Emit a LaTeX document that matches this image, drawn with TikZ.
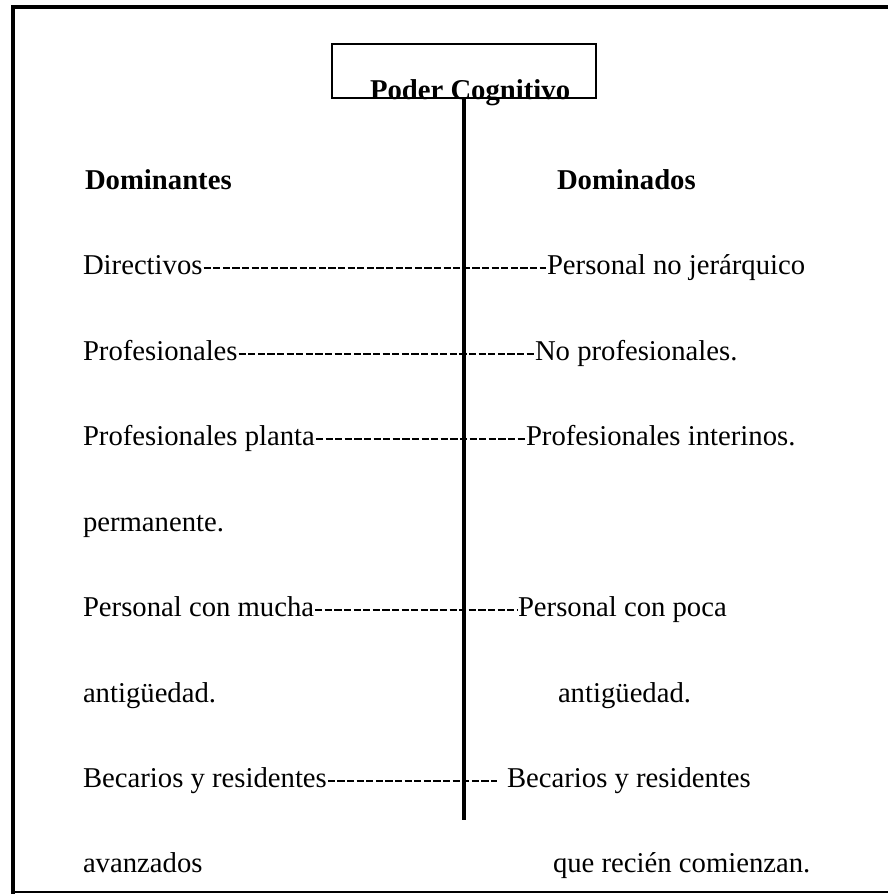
\documentclass[tikz,border=0pt]{standalone}
\usepackage{fontspec}
\setmainfont{Liberation Serif}
\usetikzlibrary{calc}
\begin{document}
\begin{tikzpicture}[x=0.5pt,y=-0.5pt,
  txt/.style={anchor=base west, inner sep=0pt, outer sep=0pt, font=\fontsize{14.35pt}{17pt}\selectfont},
  hdr/.style={txt, font=\fontsize{14.35pt}{17pt}\selectfont\bfseries},
  dashrow/.style={line width=1.4pt, dash pattern=on 3.6pt off 1.2pt},
  titlebox/.style={draw, line width=1pt, minimum width=132pt, minimum height=27pt, inner sep=0pt},
  axis/.style={line width=1.75pt}]
\useasboundingbox (0,0) rectangle (888,894);
% frame
\draw[line width=2pt] (888,7) -- (12.5,7) -- (12.5,894);
\draw[line width=0.8pt] (12.5,892) -- (888,892);
% title
\node[titlebox] (box) at (464,71) {};
\coordinate (vend) at (464,820);
\draw[axis] (box.south) -- (vend);
\node[hdr] (title) at (370,99) {Poder Cognitivo};
% headers
\node[hdr] (hl) at (85,189) {Dominantes};
\node[hdr] (hr) at (557,189) {Dominados};
% rows
\node[txt] (l1) at (83,274) {Directivos};
\node[txt] (r1) at (547,274) {Personal no jerárquico};
\node[txt] (l2) at (83,360) {Profesionales};
\node[txt] (r2) at (535,360) {No profesionales.};
\node[txt] (l3) at (83,445) {Profesionales planta};
\node[txt] (r3) at (526,445) {Profesionales interinos.};
\node[txt] (l4) at (83,531) {permanente.};
\node[txt] (l5) at (83,616) {Personal con mucha};
\node[txt] (r5) at (518,616) {Personal con poca};
\node[txt] (l6) at (83,702) {antigüedad.};
\node[txt] (r6) at (558,702) {antigüedad.};
\node[txt] (l7) at (83,787) {Becarios y residentes};
\coordinate (d7) at (497,781);
\node[txt] (r7) at (507,787) {Becarios y residentes};
\node[txt] (l8) at (83,872) {avanzados};
\node[txt] (r8) at (553,872) {que recién comienzan.};
% dashed connectors
\draw[dashrow] ($(l1.base east)+(1,-6)$) -- ($(r1.base west)+(-1,-6)$);
\draw[dashrow] ($(l2.base east)+(1,-6)$) -- ($(r2.base west)+(-1,-6)$);
\draw[dashrow] ($(l3.base east)+(1,-6)$) -- ($(r3.base west)+(-1,-6)$);
\draw[dashrow] ($(l5.base east)+(1,-6)$) -- ($(r5.base west)+(-1,-6)$);
\draw[dashrow] ($(l7.base east)+(1,-6)$) -- (d7);
\end{tikzpicture}
\end{document}
